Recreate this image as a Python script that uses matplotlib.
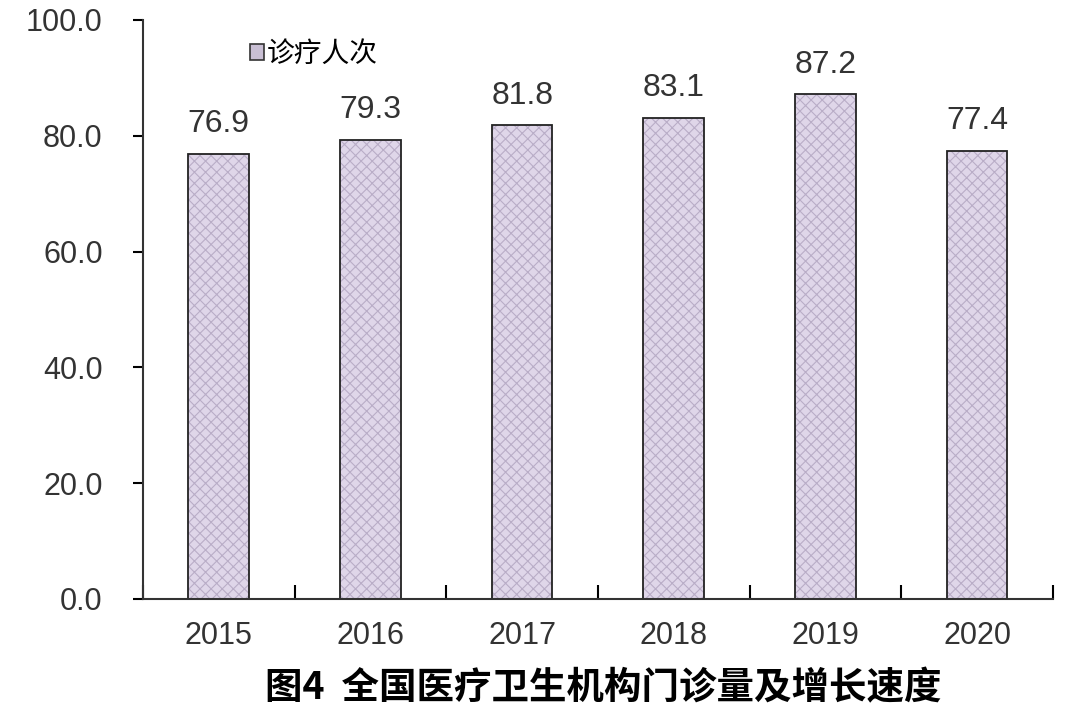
import matplotlib.pyplot as plt
import matplotlib as mpl
from matplotlib.patches import Patch

plt.rcParams['font.family'] = ['Liberation Sans', 'Noto Sans CJK SC', 'DejaVu Sans']
mpl.rcParams['hatch.linewidth'] = 0.8

# 数据
years = ['2015', '2016', '2017', '2018', '2019', '2020']
visits = [76.9, 79.3, 81.8, 83.1, 87.2, 77.4]

fig = plt.figure(figsize=(10.8, 7.08), dpi=100)
ax = fig.add_axes([0.1324, 0.154, 0.8426, 0.8178])

x = range(len(years))
# 填充纹理（浅色）+ 黑色外框
ax.bar(x, visits, width=0.4, color='#dfd6e9', edgecolor='#b9adc7',
       linewidth=0, hatch='xxx')
ax.bar(x, visits, width=0.4, fill=False, edgecolor='#222222', linewidth=1.3)

for xi, v in zip(x, visits):
    ax.text(xi, v + 2.5, f'{v:.1f}', ha='center', va='bottom', fontsize=23, color='#333333')

ax.set_xlim(-0.5, len(years) - 0.5)
ax.set_ylim(0, 100)
ax.set_yticks([0, 20, 40, 60, 80, 100])
ax.set_yticklabels([f'{t:.1f}' for t in [0, 20, 40, 60, 80, 100]], fontsize=22, color='#333333')
ax.set_xticks(list(x))
ax.set_xticklabels(years, fontsize=22, color='#333333')
ax.tick_params(axis='x', length=0, pad=16)
ax.tick_params(axis='y', length=7, width=1.5, direction='out', pad=22)

# 分类边界刻度
ax.set_xticks([i - 0.5 for i in range(len(years) + 1)], minor=True)
ax.tick_params(axis='x', which='minor', direction='in', length=10, width=1.5)

for s in ['top', 'right']:
    ax.spines[s].set_visible(False)
for s in ['left', 'bottom']:
    ax.spines[s].set_linewidth(1.5)
    ax.spines[s].set_color('#333333')

handle = Patch(facecolor='#c9bfd4', edgecolor='#333333', linewidth=1.2)
ax.legend([handle], ['诊疗人次'], loc='upper left', bbox_to_anchor=(0.09, 1.005),
          frameon=False, fontsize=20, handlelength=0.5, handleheight=0.5,
          handletextpad=0.1)

fig.text(0.559, 0.028, '图4  全国医疗卫生机构门诊量及增长速度', ha='center', va='center',
         fontsize=27, fontweight='bold', family=['Noto Sans CJK SC', 'DejaVu Sans'])

plt.savefig('out.png', dpi=100)
plt.close()
